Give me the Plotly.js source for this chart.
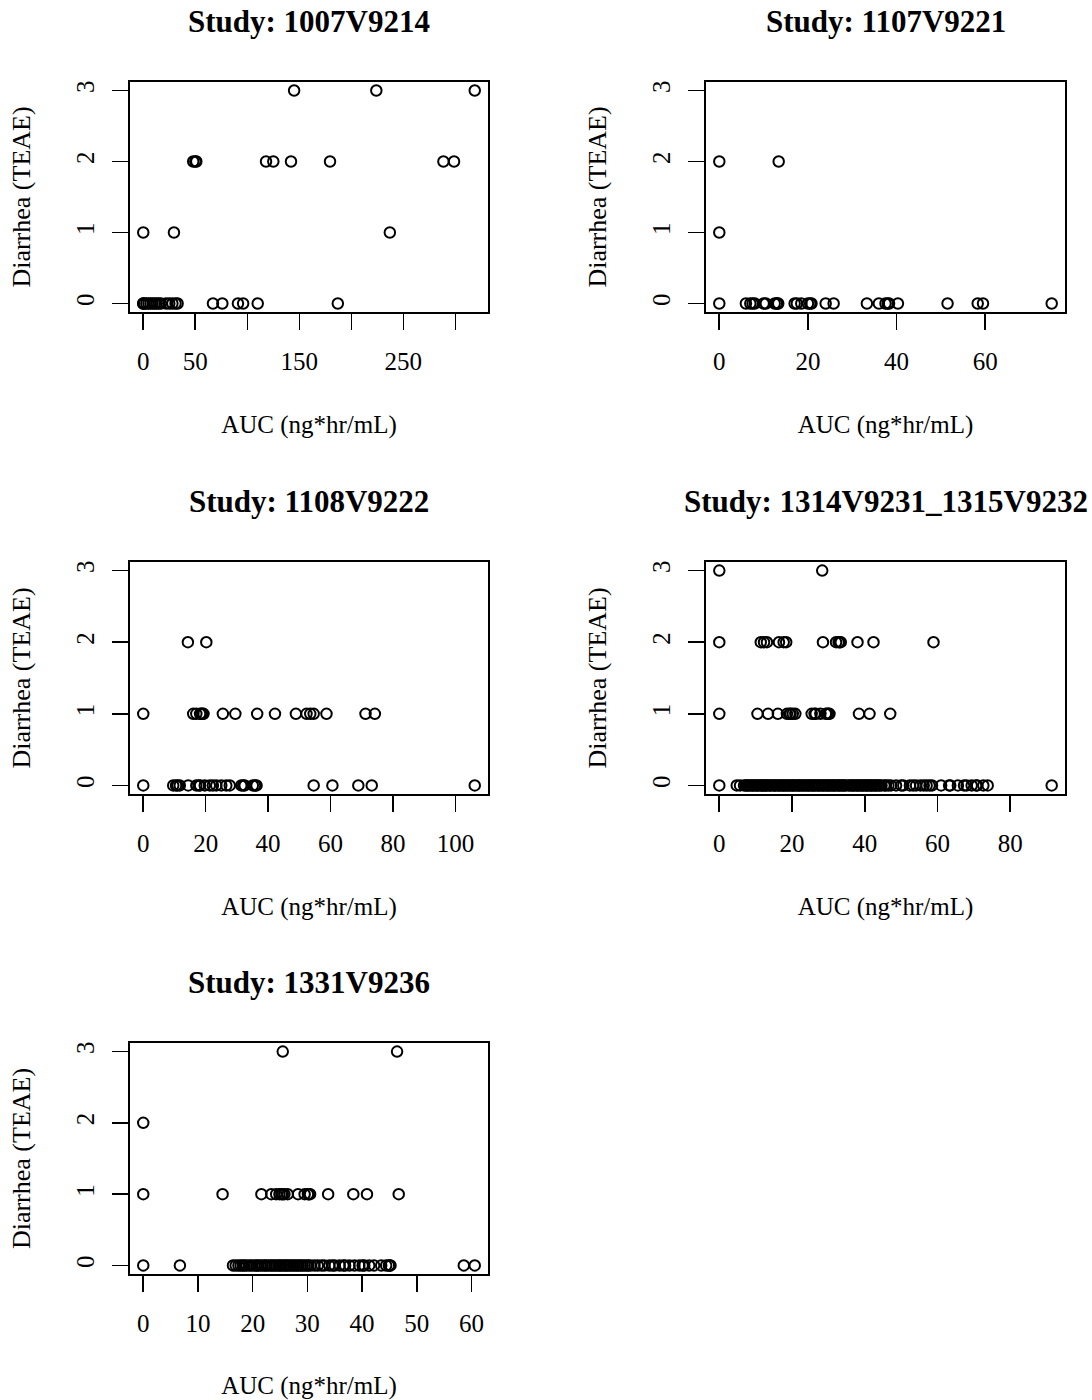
<!DOCTYPE html>
<html>
<head>
<meta charset="utf-8">
<script src="https://cdn.plot.ly/plotly-3.0.1.min.js"></script>
<style>
  html, body { margin: 0; padding: 0; background: #ffffff; }
  #chart { width: 1092px; height: 1400px; }
</style>
</head>
<body>
<div id="chart"></div>
<script>
// ---------------- DATA ----------------
const studies = ['1007V9214', '1107V9221', '1108V9222', '1314V9231_1315V9232', '1331V9236'];
const grades = [0, 1, 2, 3];
const xTitle = 'AUC (ng*hr/mL)';
const yTitle = 'Diarrhea (TEAE)';

// Study 1007V9214 : AUC values by diarrhea grade
const auc1007_g0 = [0, 0, 1, 3, 5, 7, 9, 11, 13, 15, 17, 22, 25, 28, 31, 33, 67, 76, 91, 96, 110, 187];
const auc1007_g1 = [0, 29.5, 237];
const auc1007_g2 = [48, 50, 51, 118, 125, 142, 179.5, 288.5, 298.7];
const auc1007_g3 = [145, 224, 318.6];

// Study 1107V9221
const auc1107_g0 = [0, 6, 7, 7.5, 8, 10, 10.5, 12.5, 13, 13, 13.3, 17, 17.5, 18.5, 20, 20.5, 20.8, 24, 25.8, 33.3, 36, 37.5, 38, 38.3, 40.3, 51.5, 58.3, 59.5, 75];
const auc1107_g1 = [0];
const auc1107_g2 = [0, 13.4];
const auc1107_g3 = [];

// Study 1108V9222
const auc1108_g0 = [0, 9.6, 10.5, 11, 11.7, 14.4, 17, 17.8, 18.2, 19.7, 21.3, 22.3, 23.4, 25, 26.6, 27.7, 31.4, 32, 32.5, 35.1, 35.8, 36.3, 54.6, 60.6, 68.9, 73.2, 106.2];
const auc1108_g1 = [0, 16, 17, 18.2, 18.6, 19, 19.3, 25.5, 29.5, 36.5, 42.2, 48.9, 52.3, 53.5, 54.6, 58.7, 71.2, 74.2];
const auc1108_g2 = [14.3, 20.2];
const auc1108_g3 = [];

// Study 1314V9231_1315V9232
const auc1314_g0 = [0, 4.8, 5.7, 6.8, 7.3, 7.6, 8.0, 8.4, 8.9, 9.2, 9.6, 10.1, 10.4, 10.8, 11.3, 11.6, 12.0, 12.5, 12.8, 13.1, 13.6, 14.0, 14.3, 14.9, 15.2, 15.5, 16.1, 16.4, 16.8, 17.3, 17.6, 18.0, 18.4, 18.9, 19.2, 19.7, 20.1, 20.4, 20.8, 21.3, 21.7, 22.0, 22.4, 22.9, 23.2, 23.7, 24.1, 24.5, 24.8, 25.3, 25.7, 26.0, 26.4, 26.9, 27.3, 27.6, 28.1, 28.5, 28.8, 29.3, 29.7, 30.1, 30.4, 30.9, 31.3, 31.6, 32.0, 32.5, 32.9, 33.2, 33.7, 34.1, 34.4, 34.9, 35.6, 36.0, 36.5, 36.8, 37.2, 37.7, 38.1, 38.4, 38.9, 39.3, 39.6, 40.1, 40.5, 40.8, 41.3, 41.7, 42.0, 42.5, 42.9, 43.2, 43.7, 44.1, 44.6, 45.4, 45.8, 46.5, 47.2, 48.6, 50.0, 50.6, 52.4, 53.3, 54.1, 55.3, 56.2, 57.0, 57.8, 58.5, 61.0, 63.2, 63.5, 65.6, 67.3, 68.0, 69.4, 70.6, 70.9, 72.6, 73.8, 91.4];
const auc1314_g1 = [0, 10.5, 13.4, 16.1, 18.6, 19.3, 19.6, 20.2, 20.9, 25.4, 26.2, 26.5, 27.8, 29.3, 29.7, 30.0, 30.3, 38.4, 41.3, 47.0];
const auc1314_g2 = [0, 11.4, 12.3, 13.1, 16.4, 17.7, 18.4, 28.5, 32.1, 32.8, 33.1, 33.4, 38.0, 42.4, 58.9];
const auc1314_g3 = [0, 28.3];

// Study 1331V9236
const auc1331_g0 = [0, 6.7, 16.4, 16.9, 17.4, 17.8, 18.2, 18.5, 18.9, 19.4, 19.8, 20.3, 20.7, 21.0, 21.4, 21.8, 22.2, 22.5, 22.9, 23.3, 23.6, 24.0, 24.3, 24.7, 25.0, 25.3, 25.7, 26.0, 26.3, 26.7, 27.0, 27.4, 27.7, 28.1, 28.4, 28.8, 29.1, 29.5, 29.9, 30.2, 30.6, 31.3, 31.9, 32.6, 33.1, 34.0, 34.6, 35.0, 35.9, 36.6, 36.9, 37.7, 38.6, 39.5, 40.1, 40.4, 41.3, 42.2, 43.5, 44.4, 44.9, 45.0, 45.2, 58.6, 60.6];
const auc1331_g1 = [0, 14.5, 21.6, 23.4, 24.3, 24.9, 25.3, 25.5, 25.8, 26.4, 28.3, 29.5, 30.1, 30.3, 30.5, 33.8, 38.4, 40.9, 46.7];
const auc1331_g2 = [0];
const auc1331_g3 = [25.5, 46.4];

// Tick values / labels
const xTicks1007 = [0, 50, 100, 150, 200, 250, 300];
const xLabels1007 = ['0', '50', '', '150', '', '250', ''];
const xTicks1107 = [0, 20, 40, 60];
const xLabels1107 = ['0', '20', '40', '60'];
const xTicks1108 = [0, 20, 40, 60, 80, 100];
const xLabels1108 = ['0', '20', '40', '60', '80', '100'];
const xTicks1314 = [0, 20, 40, 60, 80];
const xLabels1314 = ['0', '20', '40', '60', '80'];
const xTicks1331 = [0, 10, 20, 30, 40, 50, 60];
const xLabels1331 = ['0', '10', '20', '30', '40', '50', '60'];
const yTicks = [0, 1, 2, 3];
const yLabels = ['0', '1', '2', '3'];

// ---------------- ASSEMBLY ----------------
const panelGroups = [
  [auc1007_g0, auc1007_g1, auc1007_g2, auc1007_g3],
  [auc1107_g0, auc1107_g1, auc1107_g2, auc1107_g3],
  [auc1108_g0, auc1108_g1, auc1108_g2, auc1108_g3],
  [auc1314_g0, auc1314_g1, auc1314_g2, auc1314_g3],
  [auc1331_g0, auc1331_g1, auc1331_g2, auc1331_g3]
];
const panelTicks = [
  [xTicks1007, xLabels1007], [xTicks1107, xLabels1107], [xTicks1108, xLabels1108],
  [xTicks1314, xLabels1314], [xTicks1331, xLabels1331]
];

// plot-box pixel positions [left, right, top, bottom]
const W = 1092, H = 1400;
const boxes = [
  [130, 488, 82, 312],
  [706, 1065, 82, 312],
  [130, 488, 562, 794],
  [706, 1065, 562, 794],
  [130, 488, 1043, 1274]
];

const FONT = 'Liberation Serif, Times New Roman, Times, serif';
const data = [];
const layout = {
  width: W, height: H,
  margin: {l: 0, r: 0, t: 0, b: 0},
  paper_bgcolor: '#ffffff', plot_bgcolor: '#ffffff',
  showlegend: false,
  font: {family: FONT, color: '#000000', size: 25},
  annotations: []
};

panelGroups.forEach((groups, i) => {
  const xs = [], ys = [];
  groups.forEach((arr, g) => { arr.forEach(v => { xs.push(v); ys.push(grades[g]); }); });
  const sfx = i === 0 ? '' : String(i + 1);
  data.push({
    type: 'scatter', mode: 'markers',
    x: xs, y: ys,
    xaxis: 'x' + sfx, yaxis: 'y' + sfx,
    marker: {symbol: 'circle-open', size: 10.5, color: '#000000', line: {width: 2, color: '#000000'}},
    hoverinfo: 'x+y'
  });
  const mn = Math.min(...xs), mx = Math.max(...xs);
  const pad = 0.04 * (mx - mn);
  const b = boxes[i];
  const axCommon = {
    showgrid: false, zeroline: false,
    showline: true, mirror: true, linecolor: '#000000', linewidth: 1.6,
    ticks: 'outside', ticklen: 16, tickwidth: 1.6, tickcolor: '#000000',
    tickfont: {family: FONT, size: 25, color: '#000000'},
    fixedrange: true
  };
  layout['xaxis' + sfx] = Object.assign({}, axCommon, {
    domain: [b[0] / W, b[1] / W],
    anchor: 'y' + sfx,
    range: [mn - pad, mx + pad],
    tickmode: 'array', tickvals: panelTicks[i][0], ticktext: panelTicks[i][1],
    ticklabelstandoff: 10,
    title: {text: xTitle, font: {family: FONT, size: 25, color: '#000000'}, standoff: 42}
  });
  layout['yaxis' + sfx] = Object.assign({}, axCommon, {
    domain: [1 - b[3] / H, 1 - b[2] / H],
    anchor: 'x' + sfx,
    range: [-0.12, 3.12],
    tickmode: 'array', tickvals: yTicks, ticktext: yLabels,
    tickangle: -90,
    ticklabelstandoff: 8,
    title: {text: yTitle, font: {family: FONT, size: 26, color: '#000000'}, standoff: 34}
  });
  layout.annotations.push({
    xref: 'paper', yref: 'paper',
    x: (b[0] + b[1]) / 2 / W, y: 1 - (b[2] - 61) / H,
    xanchor: 'center', yanchor: 'middle',
    text: '<b>Study: ' + studies[i] + '</b>', showarrow: false,
    font: {family: FONT, size: 31, color: '#000000'}
  });
});

Plotly.newPlot('chart', data, layout, {displayModeBar: false, staticPlot: true});
</script>
</body>
</html>
